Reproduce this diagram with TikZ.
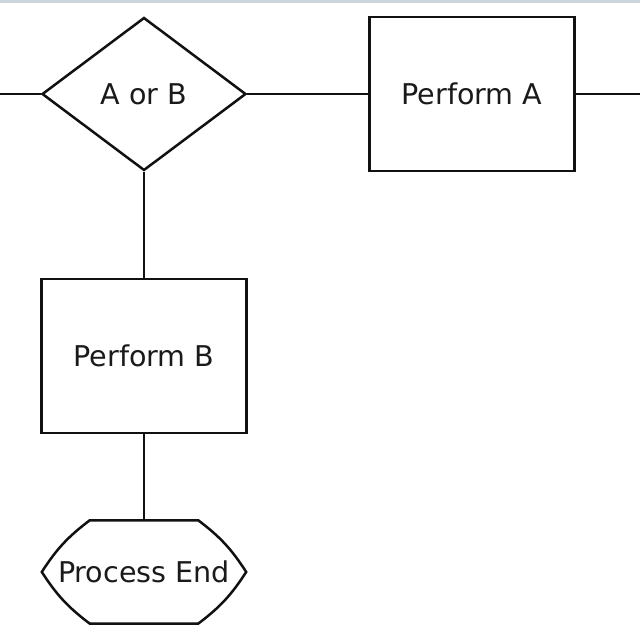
\documentclass[tikz,border=0pt]{standalone}
\usepackage{fontspec}
\setmainfont{DejaVu Sans}
\usepackage{tikz}
\usepackage{xcolor}
\usetikzlibrary{positioning, shapes.geometric}
\definecolor{linedark}{HTML}{111111}
\definecolor{textdark}{HTML}{1A1A1A}
\definecolor{topband}{HTML}{CCD5DE}
\tikzset{
  % Decision diamond
  decision/.style={
    diamond, draw=linedark, fill=white, aspect=1.33,
    minimum width=204pt, minimum height=153pt,
    font=\fontsize{28.6}{34}\selectfont, text=textdark,
    inner sep=0pt, line width=2.5pt,
  },
  % Process boxes
  process/.style={
    rectangle, draw=linedark, fill=white,
    minimum width=205pt, minimum height=154pt,
    font=\fontsize{28.6}{34}\selectfont, text=textdark,
    inner sep=0pt, line width=2.5pt,
  },
  % Terminator (outline drawn afterwards)
  terminal/.style={
    rectangle, draw=none,
    minimum width=204pt, minimum height=103pt,
    font=\fontsize{28.6}{34}\selectfont, text=textdark,
    inner sep=0pt,
  },
  % Connectors
  link/.style={line width=2.5pt, linedark},
}
\begin{document}
\begin{tikzpicture}[x=1pt, y=1pt]
  \useasboundingbox (0,0) rectangle (640,-640);
  \fill[topband] (0,0) rectangle (640,-3);

  \node[decision] (choice) at (144,-94) {A or B};
  \node[process, right=121pt of choice] (perfA) {Perform A};
  \node[process, below=106pt of choice] (perfB) {Perform B};
  \node[terminal, below=86pt of perfB] (pend) {Process End};

  \coordinate (inL) at (0,-94);
  \coordinate (outR) at (640,-94);

  % terminator outline
  \draw[link] (pend.west) to[bend left=10] ([xshift=48pt]pend.north west)
    -- ([xshift=-48pt]pend.north east) to[bend left=10] (pend.east)
    to[bend left=10] ([xshift=-48pt]pend.south east)
    -- ([xshift=48pt]pend.south west) to[bend left=10] cycle;

  \draw[link] (inL) -- (choice.west);
  \draw[link] (choice.east) -- (perfA.west);
  \draw[link] (perfA.east) -- (outR);
  \draw[link] (choice.south) -- (perfB.north);
  \draw[link] (perfB.south) -- (pend.north);
\end{tikzpicture}
\end{document}
